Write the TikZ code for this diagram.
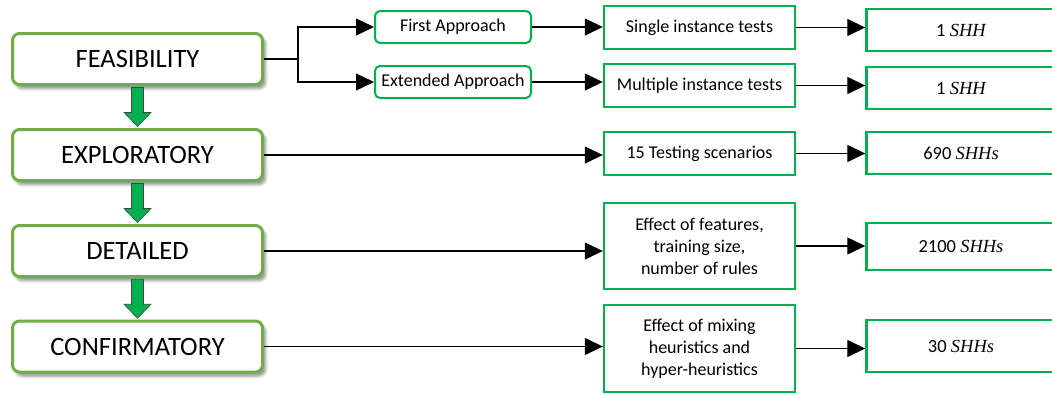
\documentclass[tikz,border=0pt]{standalone}
\usepackage{fontspec}
\setmainfont{Carlito}
\newfontfamily\varfont{Liberation Serif}
\newcommand{\var}[1]{{\varfont\itshape #1}}
\usetikzlibrary{arrows.meta,calc,shadows.blur}

\definecolor{stagegreen}{HTML}{70AD47}
\definecolor{boxgreen}{HTML}{00B050}
\definecolor{arrowgreen}{HTML}{00B050}
\definecolor{arrowedge}{HTML}{3A4A3A}

\tikzset{
  stage/.style={draw=stagegreen, line width=3pt, rounded corners=7pt, fill=white,
    minimum width=250pt, minimum height=51pt, inner sep=0pt,
    font=\fontsize{26.5}{30}\selectfont,
    blur shadow={shadow xshift=3pt, shadow yshift=-4pt, shadow blur radius=3pt, shadow opacity=45}},
  approach/.style={draw=boxgreen, line width=2pt, rounded corners=5pt, fill=white,
    minimum width=156pt, minimum height=32pt, inner sep=0pt,
    font=\fontsize{18}{22}\selectfont},
  testbox/.style={draw=boxgreen, line width=2.4pt, fill=white,
    minimum width=191pt, inner sep=0pt, align=center,
    font=\fontsize{18}{22}\selectfont},
  resultbox/.style={draw=boxgreen, line width=2.4pt, fill=white,
    minimum width=189pt, inner sep=0pt,
    font=\fontsize{18.5}{22}\selectfont},
  link/.style={line width=1.3pt, -{Triangle[length=18pt, width=17pt]}},
  plain/.style={line width=1.3pt},
  stagearrow/.pic={
    \draw[fill=arrowgreen, draw=arrowedge, line width=0.6pt]
      (-6,-19.5) -- (6,-19.5) -- (6,5.5) -- (13.5,5.5) -- (0,19.5)
      -- (-13.5,5.5) -- (-6,5.5) -- cycle;
  }
}

\begin{document}
\begin{tikzpicture}[x=1pt, y=-1pt]
  \useasboundingbox (0,0) rectangle (1052,394);

  % stages of the study
  \node[stage] (feas) at (137.5,59)  {FEASIBILITY};
  \node[stage] (expl) at (137.5,155) {EXPLORATORY};
  \node[stage] (deta) at (137.5,251) {DETAILED};
  \node[stage] (conf) at (137.5,346.5) {CONFIRMATORY};

  % progression between stages
  \pic at ($(feas.south)!0.5!(expl.north)$) {stagearrow};
  \pic at ($(expl.south)!0.5!(deta.north)$) {stagearrow};
  \pic at ($(deta.south)!0.5!(conf.north)$) {stagearrow};

  % feasibility approaches
  \node[approach] (first) at (453,27) {First Approach};
  \node[approach] (ext)   at (453,82) {Extended Approach};

  % tests performed
  \node[testbox, minimum height=43pt] (single) at (699.5,27.5) {Single instance tests};
  \node[testbox, minimum height=43pt] (multi)  at (699.5,85.5) {Multiple instance tests};
  \node[testbox, minimum height=43pt] (scen)   at (699.5,153.5) {15 Testing scenarios};
  \node[testbox, minimum height=86pt] (feat)   at (699.5,246) {Effect of features,\\training size,\\number of rules};
  \node[testbox, minimum height=87pt] (mix)    at (699.5,348.5) {Effect of mixing\\heuristics and\\hyper-heuristics};

  % resulting heuristics
  \node[resultbox, minimum height=42pt] (r1) at (961,30)  {1 \var{SHH}};
  \node[resultbox, minimum height=42pt] (r2) at (961,88)  {1 \var{SHH}};
  \node[resultbox, minimum height=42pt] (r3) at (961,153) {690 \var{SHHs}};
  \node[resultbox, minimum height=47pt] (r4) at (961,246.5) {2100 \var{SHHs}};
  \node[resultbox, minimum height=52pt] (r5) at (961,346) {30 \var{SHHs}};

  % branching from the feasibility stage
  \coordinate (split) at (298,59);
  \draw[plain] (feas.east) -- (split);
  \draw[link] (split) |- (first.west);
  \draw[link] (split) |- (ext.west);

  \draw[link] (first.east) -- (first.east -| single.west);
  \draw[link] (ext.east) -- (ext.east -| multi.west);

  \draw[link] (expl.east) -- (expl.east -| scen.west);
  \draw[link] (deta.east) -- (deta.east -| feat.west);
  \draw[link] (conf.east) -- (conf.east -| mix.west);

  \draw[link] (single.east) -- (single.east -| r1.west);
  \draw[link] (multi.east) -- (multi.east -| r2.west);
  \draw[link] (scen.east) -- (scen.east -| r3.west);
  \draw[link] (feat.east) -- (feat.east -| r4.west);
  \draw[link] (mix.east) -- (mix.east -| r5.west);
\end{tikzpicture}
\end{document}
